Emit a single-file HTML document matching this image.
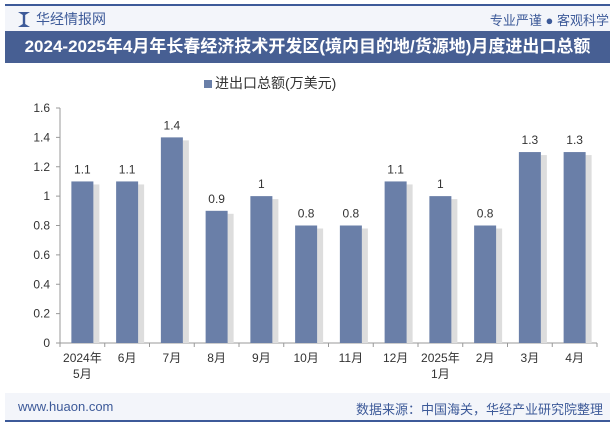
<!DOCTYPE html>
<html><head><meta charset="utf-8"><style>
body{margin:0;width:615px;height:427px;background:#fff;font-family:"Liberation Sans","Noto Sans CJK SC",sans-serif;overflow:hidden;position:relative}
.abs{position:absolute}
</style></head><body>
<div class="abs" style="left:5px;top:4px;width:605px;height:2px;background:#3d5a99"></div>
<div class="abs" style="left:5px;top:6px;width:605px;height:25px;background:#f3f5fa"></div>
<div class="abs" style="left:18px;top:12px;width:12px;height:15px;background:#3d5a99;clip-path:polygon(0 0,40% 20%,40% 80%,0 100%,100% 100%,60% 80%,60% 20%,100% 0)"></div>
<div class="abs" style="left:36px;top:9px;font-size:14px;color:#3d5a99">华经情报网</div>
<div class="abs" style="right:6px;top:10px;font-size:13px;color:#3d5a99">专业严谨 ● 客观科学</div>
<div class="abs" style="left:5px;top:31px;width:605px;height:32px;background:#475f93;color:#fff;font-size:17px;font-weight:bold;line-height:32px;text-align:center;white-space:nowrap">2024-2025年4月年长春经济技术开发区(境内目的地/货源地)月度进出口总额</div>
<div class="abs" style="left:204px;top:73px;font-size:14px;color:#333"><span style="display:inline-block;width:8px;height:8px;background:#6a7fa8;margin-right:3px"></span>进出口总额(万美元)</div>
<svg class="abs" style="left:0;top:0" width="615" height="427">
<g id="g"></g></svg>
<div class="abs" style="left:5px;top:393px;width:605px;height:27px;background:#f3f5fa"></div>
<div class="abs" style="left:18px;top:399px;font-size:13px;color:#3d5a99">www.huaon.com</div>
<div class="abs" style="right:12px;top:399px;font-size:13px;color:#3d5a99">数据来源：中国海关，华经产业研究院整理</div>
<div class="abs" style="left:5px;top:420px;width:605px;height:2px;background:#3d5a99"></div>
<script>
const categories=["2024年\n5月","6月","7月","8月","9月","10月","11月","12月","2025年\n1月","2月","3月","4月"];
const values=[1.1,1.1,1.4,0.9,1,0.8,0.8,1.1,1,0.8,1.3,1.3];
const yTicks=[0,0.2,0.4,0.6,0.8,1,1.2,1.4,1.6];
const NS="http://www.w3.org/2000/svg",g=document.getElementById('g');
const X0=60,X1=597,Y0=343,Y1=108,bw=(X1-X0)/categories.length;
const y=v=>Y0-(v/1.6)*(Y0-Y1), xc=i=>X0+bw*(i+0.5);
function mk(t,a,p){const e=document.createElementNS(NS,t);for(const k in a)e.setAttribute(k,a[k]);(p||g).appendChild(e);return e;}
const ax=mk('line',{x1:X0,x2:X1,y1:Y0,y2:Y0,stroke:'#999'});


const ay=mk('line',{x1:X0,x2:X0,y1:Y1,y2:Y0,stroke:'#999'});


yTicks.forEach(v=>{mk('line',{x1:X0-4,x2:X0,y1:y(v),y2:y(v),stroke:'#999'});
const t=mk('text',{x:X0-10,y:y(v)+4,'text-anchor':'end','font-size':12,fill:'#333'});t.textContent=v;

});
for(let i=0;i<=categories.length;i++)mk('line',{x1:X0+bw*i,x2:X0+bw*i,y1:Y0,y2:Y0+4,stroke:'#999'});
values.forEach((v,i)=>{const w=22,cx=xc(i);
mk('rect',{x:cx+w/2,y:y(v)+3,width:6,height:Y0-y(v)-3,fill:'#ddd'});
const r=mk('rect',{x:cx-w/2,y:y(v),width:w,height:Y0-y(v),fill:'#6a7fa8'});


const t=mk('text',{x:cx,y:y(v)-8,'text-anchor':'middle','font-size':12,fill:'#333'});t.textContent=v;


categories[i].split('\n').forEach((s,j)=>{const c=mk('text',{x:cx,y:Y0+19+j*16,'text-anchor':'middle','font-size':12,fill:'#333'});c.textContent=s;

});});
</script>
</body></html>
